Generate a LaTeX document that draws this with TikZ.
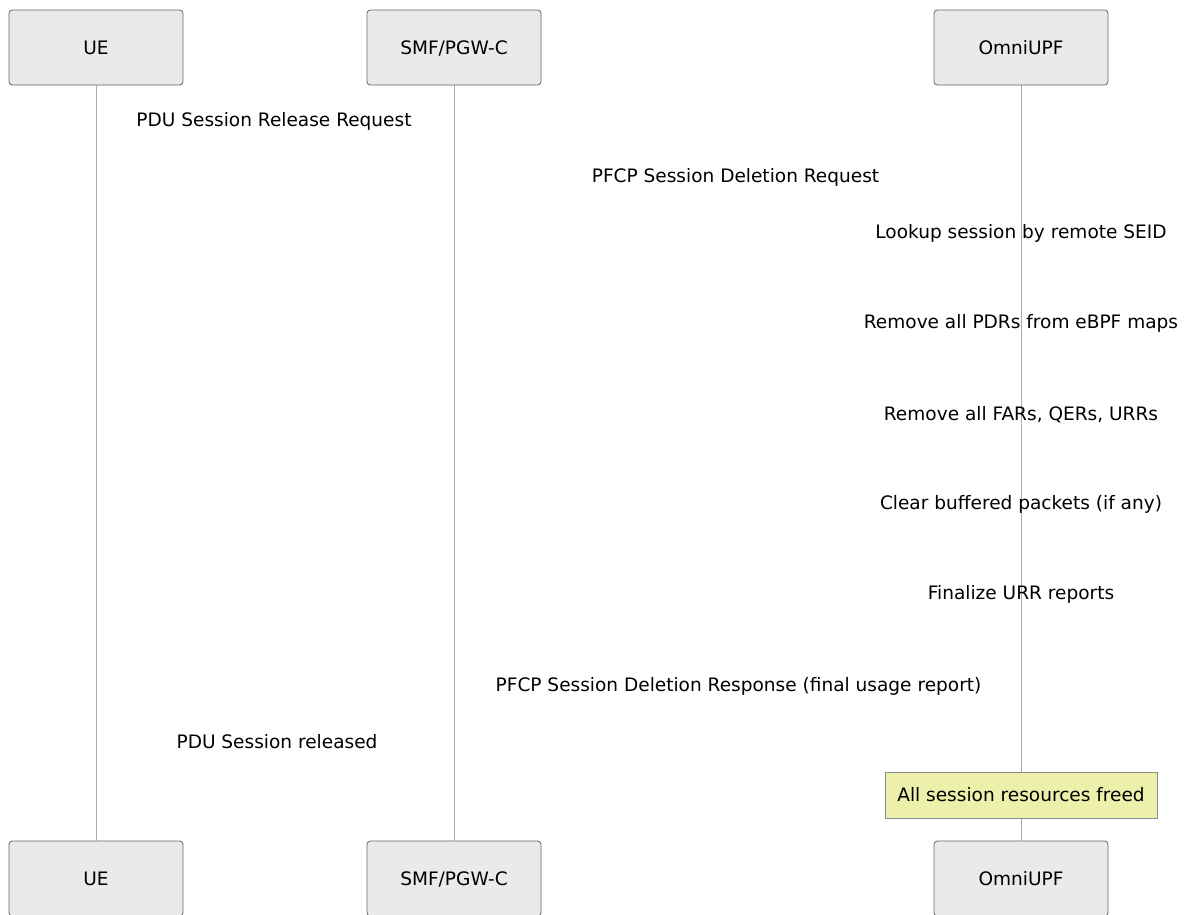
\documentclass[tikz,border=0pt]{standalone}
\usepackage{fontspec}
\setmainfont{DejaVu Sans}
\definecolor{actfill}{RGB}{234,234,234}
\definecolor{actdraw}{RGB}{102,102,102}
\definecolor{lifeln}{RGB}{170,170,170}
\definecolor{notefill}{RGB}{236,240,170}
\definecolor{notedraw}{RGB}{140,140,140}
\begin{document}
\begin{tikzpicture}[x=0.75pt,y=-0.75pt,
  every node/.style={font=\fontsize{13.9}{16}\selectfont},
  actor/.style={draw=actdraw,fill=actfill,rounded corners=2.5pt,minimum width=130.5pt,minimum height=56.25pt,inner sep=0pt,line width=0.6pt,text depth=-1.5pt},
  msg/.style={inner sep=0pt},
  lifeline/.style={draw=lifeln,line width=0.6pt},
  notebox/.style={draw=notedraw,fill=notefill,minimum width=204pt,minimum height=34.5pt,inner sep=0pt,line width=0.6pt}]
\useasboundingbox (0,0) rectangle (1187,914);
\begin{scope}
\clip (0,0) rectangle (1187,914);
\node[actor] (ueT) at (96,47.5) {UE};
\node[actor] (smfT) at (454,47.5) {SMF/PGW-C};
\node[actor] (upfT) at (1021,47.5) {OmniUPF};
\node[actor] (ueB) at (96,878.5) {UE};
\node[actor] (smfB) at (454,878.5) {SMF/PGW-C};
\node[actor] (upfB) at (1021,878.5) {OmniUPF};
\draw[lifeline] (ueT.south) -- (ueB.north);
\draw[lifeline] (smfT.south) -- (smfB.north);
\draw[lifeline] (upfT.south) -- (upfB.north);
\node[msg] (m1) at (274,121.5) {PDU Session Release Request};
\node[msg] (m2) at (735.5,177.5) {PFCP Session Deletion Request};
\node[msg] (m3) at (1021,233.5) {Lookup session by remote SEID};
\node[msg] (m4) at (1021,323.5) {Remove all PDRs from eBPF maps};
\node[msg] (m5) at (1021,414.5) {Remove all FARs, QERs, URRs};
\node[msg] (m6) at (1021,504.5) {Clear buffered packets (if any)};
\node[msg] (m7) at (1021,594.5) {Finalize URR reports};
\node[msg] (m8) at (738.5,686.5) {PFCP Session Deletion Response (final usage report)};
\node[msg] (m9) at (277,741.5) {PDU Session released};
\node[notebox] (note) at (1021,795) {All session resources freed};
\end{scope}
\end{tikzpicture}
\end{document}
